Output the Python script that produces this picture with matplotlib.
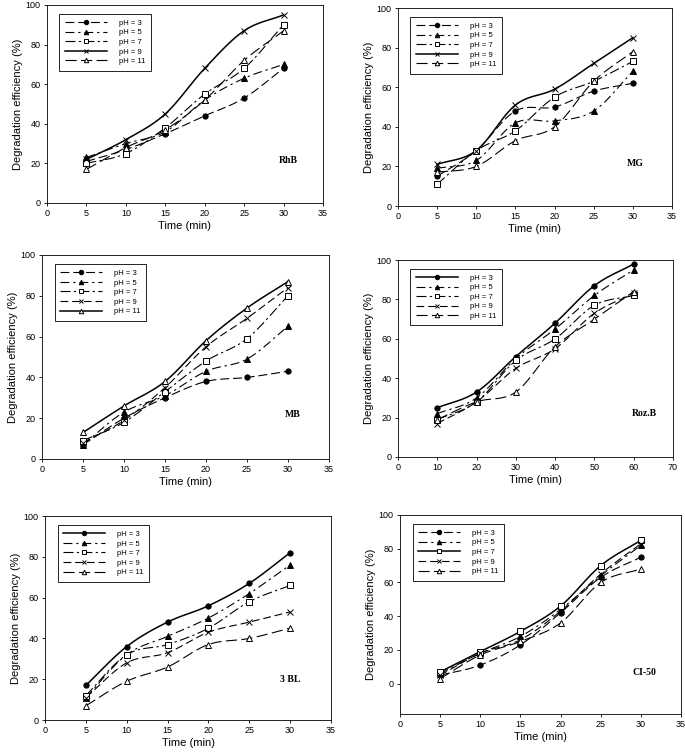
import numpy as np
import matplotlib
matplotlib.use("Agg")
import matplotlib.pyplot as plt

plt.rcParams["font.family"] = ["Liberation Sans", "DejaVu Sans"]

labels = ["pH = 3", "pH = 5", "pH = 7", "pH = 9", "pH = 11"]

t_30 = [5, 10, 15, 20, 25, 30]
t_60 = [10, 20, 30, 40, 50, 60]

rhb = [
    [21, 27, 35, 44, 53, 68],
    [23, 30, 36, 52, 63, 70],
    [20, 25, 38, 55, 68, 90],
    [22, 32, 45, 68, 87, 95],
    [17, 28, 37, 52, 72, 87],
]
mg = [
    [15, 28, 48, 50, 58, 62],
    [19, 23, 42, 43, 48, 68],
    [11, 28, 38, 55, 63, 73],
    [21, 28, 51, 59, 72, 85],
    [17, 20, 33, 40, 63, 78],
]
mb = [
    [7, 20, 30, 38, 40, 43],
    [7, 23, 31, 43, 49, 65],
    [9, 18, 33, 48, 59, 80],
    [8, 19, 35, 55, 69, 84],
    [13, 26, 38, 58, 74, 87],
]
rozb = [
    [25, 33, 51, 68, 87, 98],
    [22, 30, 50, 65, 82, 95],
    [19, 28, 49, 60, 77, 82],
    [17, 28, 45, 55, 73, 83],
    [19, 28, 33, 56, 70, 84],
]
bl3 = [
    [17, 36, 48, 56, 67, 82],
    [11, 32, 41, 50, 62, 76],
    [12, 32, 37, 45, 58, 66],
    [11, 28, 33, 43, 48, 53],
    [7, 19, 26, 37, 40, 45],
]
ci50 = [
    [5, 11, 23, 42, 63, 75],
    [6, 18, 28, 44, 64, 82],
    [7, 19, 31, 46, 70, 85],
    [5, 18, 26, 43, 65, 83],
    [3, 17, 25, 36, 60, 68],
]

markers = ["o", "^", "s", "x", "^"]
filled = [True, True, False, True, False]
dashes = [(0, (8, 3.5)), (0, (8, 3.5, 2, 3.5)), (0, (9, 3, 2, 3)), (0, (7, 3.5)), (0, (10, 4))]


def smooth(x, y, n=16):
    # catmull-rom curve through the points, only for drawing the line
    x = np.asarray(x, float)
    y = np.asarray(y, float)
    m = np.gradient(y, x)
    xs, ys = [], []
    for i in range(len(x) - 1):
        h = x[i + 1] - x[i]
        s = np.linspace(0, 1, n, endpoint=False)
        h00 = 2 * s**3 - 3 * s**2 + 1
        h10 = s**3 - 2 * s**2 + s
        h01 = -2 * s**3 + 3 * s**2
        h11 = s**3 - s**2
        xs.append(x[i] + s * h)
        ys.append(h00 * y[i] + h10 * h * m[i] + h01 * y[i + 1] + h11 * h * m[i + 1])
    xs.append([x[-1]])
    ys.append([y[-1]])
    return np.concatenate(xs), np.concatenate(ys)


panels = [
    # data, x, solid series, name, name pos, xlim, ylim, xticks, rect(px: l, r, top, bottom)
    (rhb, t_30, 3, "RhB", (30.6, 21.5), (0, 35), (0, 100), range(0, 36, 5), (47, 323, 5, 203)),
    (mg, t_30, 3, "MG", (30.3, 21.6), (0, 35), (0, 100), range(0, 36, 5), (398, 672, 8, 206)),
    (mb, t_30, 4, "MB", (30.6, 21.6), (0, 35), (0, 100), range(0, 36, 5), (42, 329, 255, 459)),
    (rozb, t_60, 0, "Roz.B", (62.7, 22), (0, 70), (0, 100), range(0, 71, 10), (398, 673, 260, 457)),
    (bl3, t_30, 0, "3 BL", (30.0, 20), (0, 35), (0, 100), range(0, 36, 5), (45, 331, 516, 720)),
    (ci50, t_30, 2, "CI-50", (30.5, 6.7), (0, 35), (-18, 100), range(0, 36, 5), (400, 681, 515, 714)),
]

W, H = 685, 754
fig = plt.figure(figsize=(W / 100, H / 100), dpi=100)

for data, tx, solid, name, npos, xlim, ylim, xticks, rect in panels:
    l, r, top, bot = rect
    ax = fig.add_axes([l / W, 1 - bot / H, (r - l) / W, (bot - top) / H])
    for i, ys in enumerate(data):
        sx, sy = smooth(tx, ys)
        ls = "-" if i == solid else dashes[i]
        lw = 1.1 if i == solid else 0.8
        face = "black" if filled[i] else "white"
        ax.plot(sx, sy, color="black", linestyle=ls, linewidth=lw, zorder=2)
        ax.plot(tx, ys, linestyle="none", marker=markers[i], markersize=3.8,
                markeredgewidth=0.7, color="black", markerfacecolor=face, zorder=3)
        # legend proxy
        ax.plot([], [], color="black", linestyle=ls, linewidth=lw, marker=markers[i],
                markersize=3.8, markeredgewidth=0.7, markerfacecolor=face, label=labels[i])
    ax.set_xlim(*xlim)
    ax.set_ylim(*ylim)
    ax.set_xticks(list(xticks))
    ax.set_yticks(range(0, 101, 20))
    ax.tick_params(direction="out", length=2.5, width=0.6, labelsize=6.5, pad=2)
    for sp in ax.spines.values():
        sp.set_linewidth(0.6)
    ax.set_xlabel("Time (min)", fontsize=8, labelpad=2)
    ax.set_ylabel("Degradation efficiency (%)", fontsize=8, labelpad=2)
    ax.text(npos[0], npos[1], name, fontsize=7, fontweight="bold",
            family=["Liberation Serif", "DejaVu Serif"], ha="center", va="center")
    leg = ax.legend(loc="upper left", bbox_to_anchor=(0.045, 0.955), borderaxespad=0,
                    fontsize=5.5, handlelength=5.5, handletextpad=1.6, labelspacing=0.3,
                    borderpad=0.7, markerscale=0.85, fancybox=False, edgecolor="black",
                    framealpha=1)
    leg.get_frame().set_linewidth(0.6)

fig.savefig("out.png", dpi=100)
